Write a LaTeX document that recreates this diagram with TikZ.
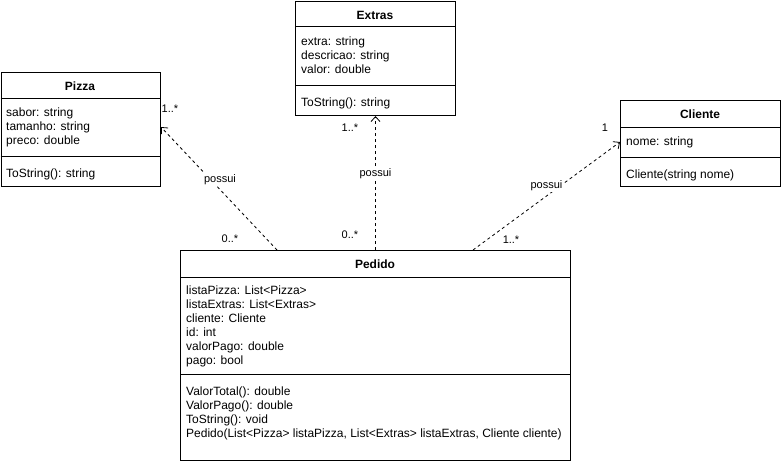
\documentclass[tikz,border=0pt]{standalone}
\usepackage{fontspec}
\setmainfont{Liberation Sans}
\usetikzlibrary{arrows.meta,calc}
\begin{document}
\begin{tikzpicture}[x=1pt,y=-1pt,
  box/.style={draw, line width=1pt, anchor=north west, inner sep=0pt},
  sep/.style={line width=1pt},
  txt/.style={anchor=base west, inner sep=0pt, font=\fontsize{12}{14}\selectfont},
  ttl/.style={anchor=base, inner sep=0pt, font=\fontsize{12}{14}\selectfont\bfseries},
  lbl/.style={inner sep=1pt, font=\fontsize{11}{13}\selectfont},
  said/.style={lbl, fill=white},
  assoc/.style={line width=0.8pt, dash pattern=on 3pt off 3pt,
    -{Straight Barb[length=5pt,width=9pt]}},
]
\fill[white] (0,0) rectangle (781,464);
\useasboundingbox (0,0) rectangle (781,464);

% ---- Pizza ----
\node[box, minimum width=159.5pt, minimum height=114pt] (pizza) at (0.5,72) {};
\draw[sep] ($(pizza.north west)+(0,26)$) -- ($(pizza.north east)+(0,26)$);
\draw[sep] ($(pizza.north west)+(0,84)$) -- ($(pizza.north east)+(0,84)$);
\node[ttl] (pizza-t) at (80,90) {Pizza};
\node[txt] (pizza-a1) at (6,116) {sabor: string};
\node[txt] (pizza-a2) at (6,130) {tamanho: string};
\node[txt] (pizza-a3) at (6,144) {preco: double};
\node[txt] (pizza-m1) at (6,177) {ToString(): string};

% ---- Extras ----
\node[box, minimum width=160pt, minimum height=114pt] (extras) at (295,1) {};
\draw[sep] ($(extras.north west)+(0,25)$) -- ($(extras.north east)+(0,25)$);
\draw[sep] ($(extras.north west)+(0,84)$) -- ($(extras.north east)+(0,84)$);
\node[ttl] (extras-t) at (375,19) {Extras};
\node[txt] (extras-a1) at (301,45) {extra: string};
\node[txt] (extras-a2) at (301,59) {descricao: string};
\node[txt] (extras-a3) at (301,73) {valor: double};
\node[txt] (extras-m1) at (301,106) {ToString(): string};

% ---- Cliente ----
\node[box, minimum width=160pt, minimum height=86pt] (cliente) at (620,100) {};
\draw[sep] ($(cliente.north west)+(0,27)$) -- ($(cliente.north east)+(0,27)$);
\draw[sep] ($(cliente.north west)+(0,57)$) -- ($(cliente.north east)+(0,57)$);
\node[ttl] (cliente-t) at (700,118) {Cliente};
\node[txt] (cliente-a1) at (626,145) {nome: string};
\node[txt] (cliente-m1) at (626,178) {Cliente(string nome)};

% ---- Pedido ----
\node[box, minimum width=390pt, minimum height=210pt] (pedido) at (180,250) {};
\draw[sep] ($(pedido.north west)+(0,27)$) -- ($(pedido.north east)+(0,27)$);
\draw[sep] ($(pedido.north west)+(0,124)$) -- ($(pedido.north east)+(0,124)$);
\node[ttl] (pedido-t) at (375,268) {Pedido};
\node[txt] (pedido-a1) at (186,294) {listaPizza: List<Pizza>};
\node[txt] (pedido-a2) at (186,308) {listaExtras: List<Extras>};
\node[txt] (pedido-a3) at (186,322) {cliente: Cliente};
\node[txt] (pedido-a4) at (186,336) {id: int};
\node[txt] (pedido-a5) at (186,350) {valorPago: double};
\node[txt] (pedido-a6) at (186,364) {pago: bool};
\node[txt] (pedido-m1) at (186,395) {ValorTotal(): double};
\node[txt] (pedido-m2) at (186,409) {ValorPago(): double};
\node[txt] (pedido-m3) at (186,423) {ToString(): void};
\node[txt] (pedido-m4) at (186,437) {Pedido(List<Pizza> listaPizza, List<Extras> listaExtras, Cliente cliente)};

% ---- associations ----
\draw[assoc] ($(pedido.north west)+(97,0)$) -- ($(pizza.north east)+(0,55)$)
  node[said, pos=0.5, yshift=9pt, xshift=1pt] (l-pizza) {possui};
\draw[assoc] (pedido.north) -- (extras.south)
  node[said, pos=0.5, yshift=9pt] (l-extras) {possui};
\draw[assoc] ($(pedido.north west)+(293,0)$) -- ($(cliente.north west)+(0,42)$)
  node[said, pos=0.5, yshift=10pt] (l-cliente) {possui};

% ---- multiplicities ----
\node[lbl] (m-pz1) at (170,109) {1..*};
\node[lbl] (m-pz0) at (230,239) {0..*};
\node[lbl] (m-ex1) at (350,128) {1..*};
\node[lbl] (m-ex0) at (350,235) {0..*};
\node[lbl] (m-cl1) at (605,128) {1};
\node[lbl] (m-cl0) at (511,240) {1..*};
\end{tikzpicture}
\end{document}
